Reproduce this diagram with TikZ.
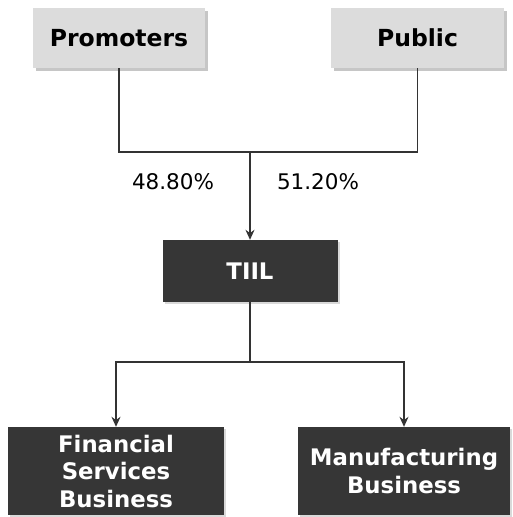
\documentclass[tikz,border=0pt]{standalone}
\usepackage{fontspec}
\setmainfont{DejaVu Sans}
\usetikzlibrary{shadows,arrows.meta}
\definecolor{lightbox}{HTML}{DCDCDC}
\definecolor{darkbox}{HTML}{363636}
\definecolor{wire}{HTML}{333333}
\tikzset{
  lightnode/.style={draw=none, fill=lightbox, minimum width=#1, minimum height=60pt,
    inner sep=0pt, font=\bfseries\fontsize{23.5}{27}\selectfont, text=black,
    drop shadow={shadow xshift=2.5pt, shadow yshift=-2.5pt, opacity=0.45}},
  darknode/.style={draw=none, fill=darkbox, minimum width=#1, inner sep=0pt,
    font=\bfseries\fontsize{22.8}{27.5}\selectfont, text=white, align=center,
    drop shadow={shadow xshift=2pt, shadow yshift=-2pt, opacity=0.3}},
  link/.style={draw=wire, line width=1.2pt},
  arrowlink/.style={link, -{Stealth[length=10pt, width=9pt]}},
  pct/.style={font=\fontsize{21.5}{24}\selectfont, text=black}
}
\begin{document}
\begin{tikzpicture}[x=1pt, y=1pt]
  \useasboundingbox (0,0) rectangle (512,-517);
  % shareholders
  \node[lightnode=172pt] (prom) at (119,-38) {Promoters};
  \node[lightnode=173pt] (pub) at (417.5,-38) {Public};
  % holding company
  \node[darknode=175pt, minimum height=62pt] (tiil) at (250,-271) {TIIL};
  % businesses
  \node[darknode=216pt, minimum height=88pt] (fin) at (116,-471) {Financial\\Services\\Business};
  \node[darknode=212pt, minimum height=88pt] (man) at (404,-471) {Manufacturing\\Business};
  % joints
  \coordinate (join) at (250,-152);
  \coordinate (split) at (250,-362);
  % ownership lines
  \draw[link] (prom.south) |- (join) -| (pub.south);
  \draw[arrowlink] (join) -- (tiil.north);
  \draw[link] (tiil.south) -- (split);
  \draw[arrowlink] (split) -| (fin.north);
  \draw[arrowlink] (split) -| (man.north);
  % shareholding percentages
  \node[pct] (pprom) at (173,-182) {48.80\%};
  \node[pct] (ppub) at (318,-182) {51.20\%};
\end{tikzpicture}
\end{document}
